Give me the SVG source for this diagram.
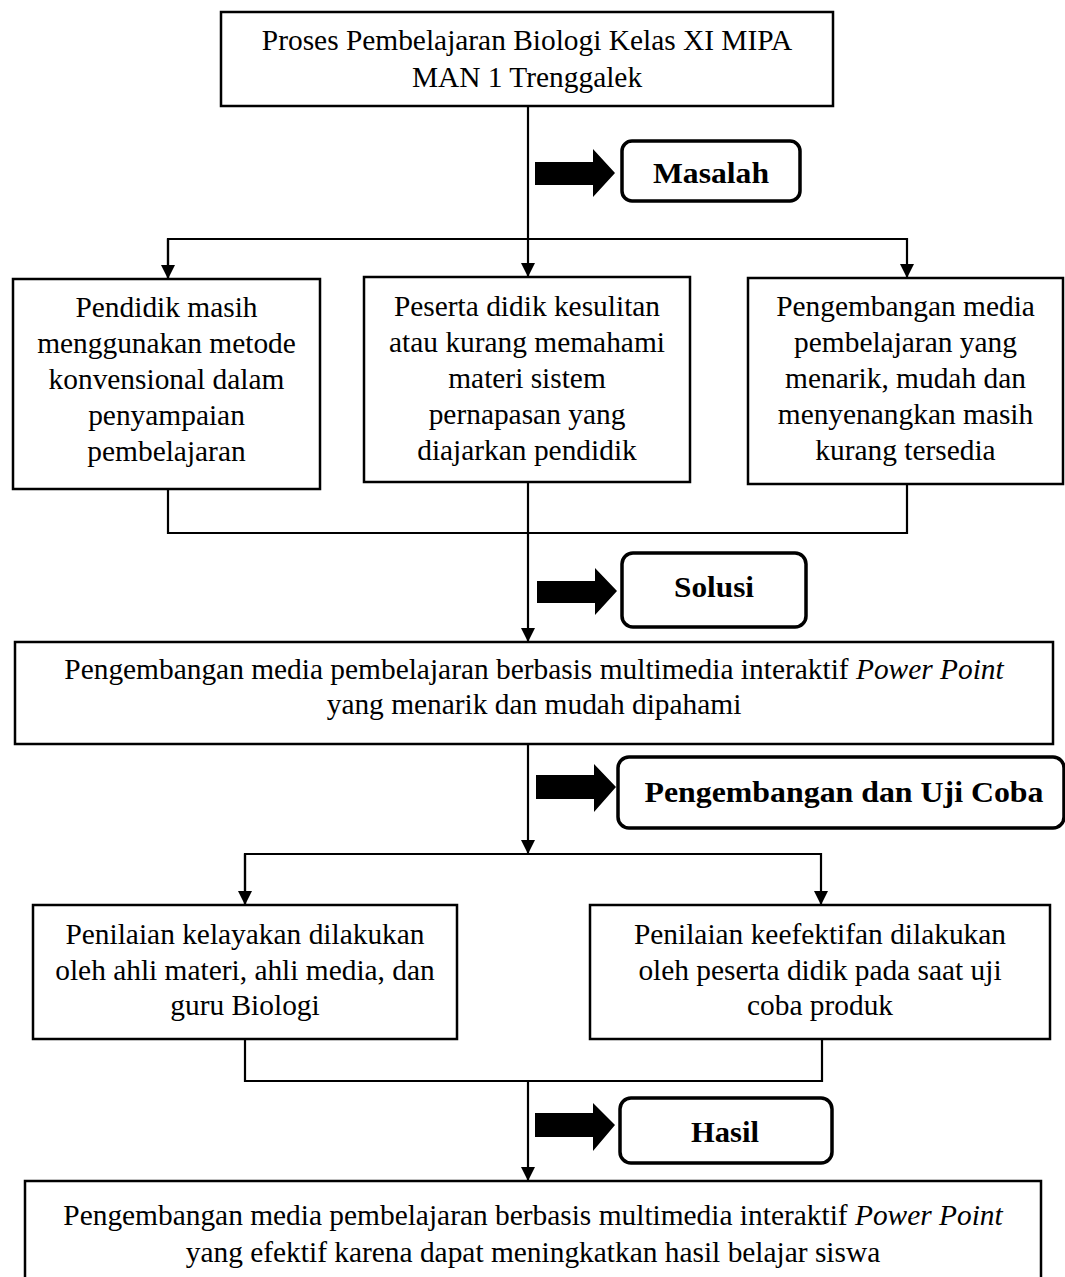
<svg xmlns="http://www.w3.org/2000/svg" width="1065" height="1277" viewBox="0 0 1065 1277">
<defs>
<style>
.box{fill:#fff;stroke:#000;stroke-width:2.5}
.lbl{fill:#fff;stroke:#000;stroke-width:3.5}
.t{font-family:"Liberation Serif","Times New Roman",serif;font-size:29.4px;fill:#000;text-anchor:middle}
.b{font-family:"Liberation Serif","Times New Roman",serif;font-size:30px;font-weight:bold;fill:#000;text-anchor:middle}
.c{fill:none;stroke:#000;stroke-width:2.2}
.big{fill:#000;stroke:none}
</style>
<marker id="ah" markerUnits="userSpaceOnUse" markerWidth="16" markerHeight="16" viewBox="0 0 16 16" refX="14" refY="8" orient="auto">
<path d="M0,1 L14,8 L0,15 Z" fill="#000"/>
</marker>
</defs>
<rect width="1065" height="1277" fill="#fff"/>

<g id="connectors">
<line class="c" x1="528" y1="106" x2="528" y2="277" marker-end="url(#ah)"/>
<polyline class="c" points="168,279 168,239 907,239 907,278" marker-end="url(#ah)"/>
<line class="c" x1="168" y1="239" x2="168" y2="279" marker-end="url(#ah)"/>
<polyline class="c" points="168,489 168,533 907,533 907,484"/>
<line class="c" x1="528" y1="482" x2="528" y2="642" marker-end="url(#ah)"/>
<line class="c" x1="528" y1="744" x2="528" y2="854" marker-end="url(#ah)"/>
<polyline class="c" points="245,905 245,854 821,854 821,905" marker-end="url(#ah)"/>
<line class="c" x1="245" y1="854" x2="245" y2="905" marker-end="url(#ah)"/>
<polyline class="c" points="245,1039 245,1081 822,1081 822,1039"/>
<line class="c" x1="528" y1="1081" x2="528" y2="1181" marker-end="url(#ah)"/>
<polygon class="big" points="535,162 593,162 593,149 615,173 593,197 593,185 535,185"/>
<polygon class="big" points="537,581 595,581 595,568 617,591 595,615 595,603 537,603"/>
<polygon class="big" points="536,775 594,775 594,764 616,787 594,812 594,799 536,799"/>
<polygon class="big" points="535,1113 593,1113 593,1103 615,1125 593,1151 593,1137 535,1137"/>
</g>

<g id="node-top">
<rect class="box" x="221" y="12" width="612" height="94"/>
<text class="t" x="527" y="50">Proses Pembelajaran Biologi Kelas XI MIPA</text>
<text class="t" x="527" y="87">MAN 1 Trenggalek</text>
</g>

<g id="label-masalah">
<rect class="lbl" x="622" y="141" width="178" height="60" rx="10"/>
<text class="b" x="711" y="183" textLength="116" lengthAdjust="spacingAndGlyphs">Masalah</text>
</g>

<g id="node-left">
<rect class="box" x="13" y="279" width="307" height="210"/>
<text class="t" x="166.5" y="317">Pendidik masih</text>
<text class="t" x="166.5" y="353">menggunakan metode</text>
<text class="t" x="166.5" y="389">konvensional dalam</text>
<text class="t" x="166.5" y="425">penyampaian</text>
<text class="t" x="166.5" y="461">pembelajaran</text>
</g>

<g id="node-middle">
<rect class="box" x="364" y="277" width="326" height="205"/>
<text class="t" x="527" y="316">Peserta didik kesulitan</text>
<text class="t" x="527" y="352">atau kurang memahami</text>
<text class="t" x="527" y="388">materi sistem</text>
<text class="t" x="527" y="424">pernapasan yang</text>
<text class="t" x="527" y="460">diajarkan pendidik</text>
</g>

<g id="node-right">
<rect class="box" x="748" y="278" width="315" height="206"/>
<text class="t" x="905.5" y="316">Pengembangan media</text>
<text class="t" x="905.5" y="352">pembelajaran yang</text>
<text class="t" x="905.5" y="388">menarik, mudah dan</text>
<text class="t" x="905.5" y="424">menyenangkan masih</text>
<text class="t" x="905.5" y="460">kurang tersedia</text>
</g>

<g id="label-solusi">
<rect class="lbl" x="622" y="553" width="184" height="74" rx="11"/>
<text class="b" x="714" y="597" textLength="80" lengthAdjust="spacingAndGlyphs">Solusi</text>
</g>

<g id="node-solution">
<rect class="box" x="15" y="642" width="1038" height="102"/>
<text class="t" x="534" y="679">Pengembangan media pembelajaran berbasis multimedia interaktif <tspan font-style="italic">Power Point</tspan></text>
<text class="t" x="534" y="714">yang menarik dan mudah dipahami</text>
</g>

<g id="label-uji">
<rect class="lbl" x="618" y="757" width="446" height="71" rx="11"/>
<text class="b" x="844" y="802" textLength="399" lengthAdjust="spacingAndGlyphs">Pengembangan dan Uji Coba</text>
</g>

<g id="node-kelayakan">
<rect class="box" x="33" y="905" width="424" height="134"/>
<text class="t" x="245" y="944">Penilaian kelayakan dilakukan</text>
<text class="t" x="245" y="980">oleh ahli materi, ahli media, dan</text>
<text class="t" x="245" y="1015">guru Biologi</text>
</g>

<g id="node-keefektifan">
<rect class="box" x="590" y="905" width="460" height="134"/>
<text class="t" x="820" y="944">Penilaian keefektifan dilakukan</text>
<text class="t" x="820" y="980">oleh peserta didik pada saat uji</text>
<text class="t" x="820" y="1015">coba produk</text>
</g>

<g id="label-hasil">
<rect class="lbl" x="620" y="1098" width="212" height="65" rx="11"/>
<text class="b" x="725" y="1142" textLength="68" lengthAdjust="spacingAndGlyphs">Hasil</text>
</g>

<g id="node-result">
<rect class="box" x="25" y="1181" width="1016" height="120"/>
<text class="t" x="533" y="1225">Pengembangan media pembelajaran berbasis multimedia interaktif <tspan font-style="italic">Power Point</tspan></text>
<text class="t" x="533" y="1262">yang efektif karena dapat meningkatkan hasil belajar siswa</text>
</g>
</svg>
